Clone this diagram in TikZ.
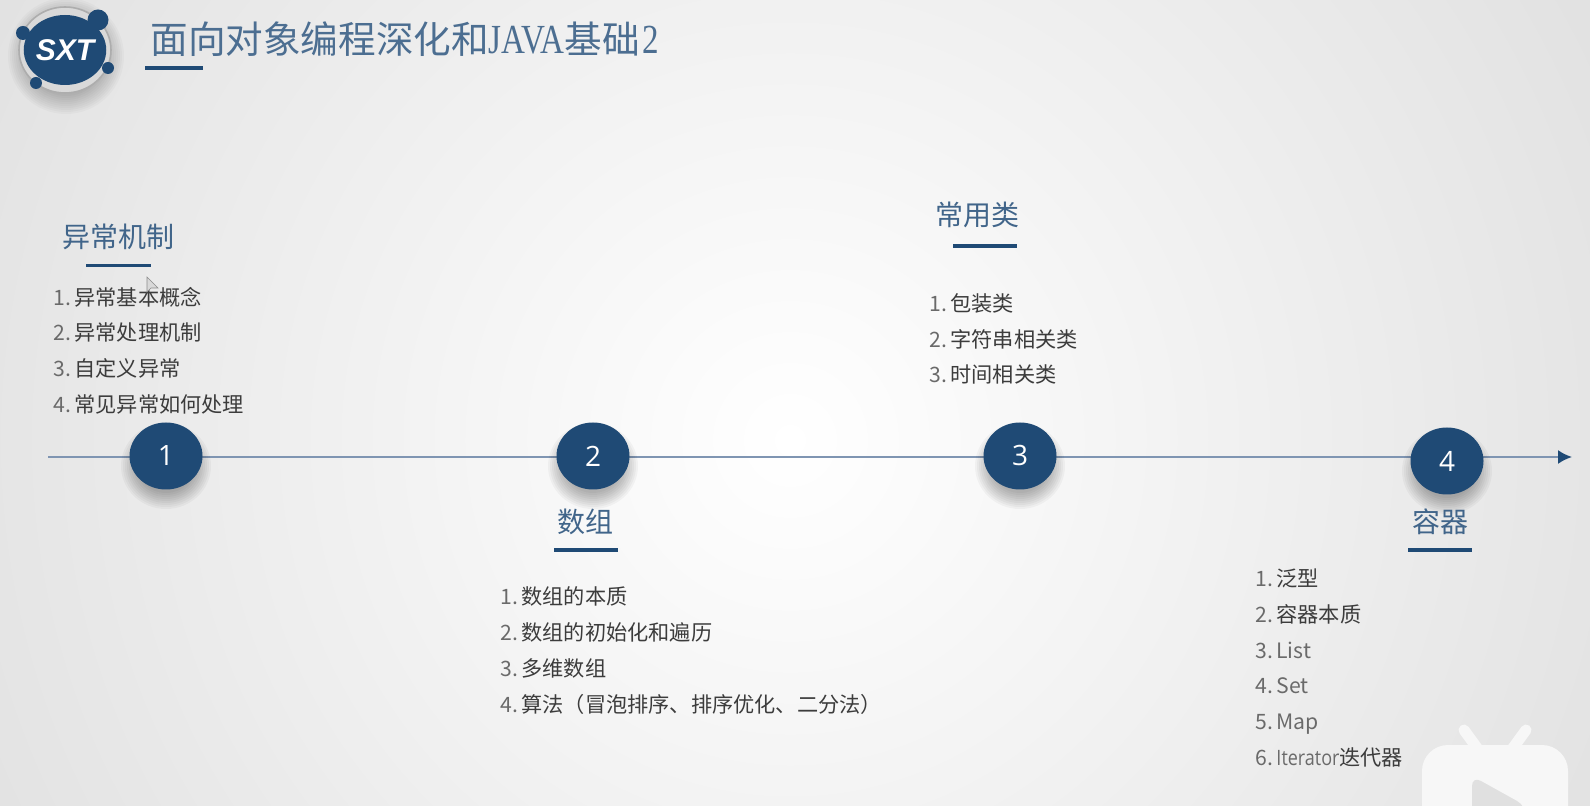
\documentclass[tikz,border=0pt]{standalone}
\usepackage{fontspec}
\setmainfont{Noto Sans CJK SC}
\newfontfamily\titlelatin[FakeStretch=0.8,Scale=1.1]{Liberation Serif}
\newfontfamily\digitfont{Open Sans}
\newfontfamily\logofont{Liberation Sans}
\newfontfamily\narrowlatin[FakeStretch=0.85]{Open Sans}
\usetikzlibrary{arrows.meta,shapes.geometric}
\definecolor{sxtblue}{HTML}{1F4A75}
\definecolor{axisblue}{HTML}{7F95B2}
\definecolor{itemgray}{HTML}{3C3C3C}
\definecolor{numgray}{HTML}{6A6A6A}
\newcommand{\numlabel}[1]{{\color{numgray}#1.}\hspace{1.7pt}}
\tikzset{
  stepnode/.style={ellipse, fill=sxtblue, text=white, minimum width=36.5pt, minimum height=33.5pt, inner sep=0pt, font=\digitfont\fontsize{14}{14}\selectfont},
  heading/.style={text=sxtblue!85!white, inner sep=0pt, font=\fontsize{14}{14}\selectfont},
  headrule/.style={draw=sxtblue, line width=1.8pt},
  itemlist/.style={anchor=north west, align=left, inner sep=0pt, text=itemgray, font=\fontsize{10.6}{17.9}\selectfont},
}
\begin{document}
\begin{tikzpicture}[x=0.5pt, y=-0.5pt]
            \useasboundingbox (0,0) rectangle (1590,806);
            % Background
            \begin{scope}
            \clip (0,0) rectangle (1590,806);
            \shade[inner color=white, outer color=black!19] (790,440) circle (1500);
            \end{scope}

            % Logo
            \foreach \r in {58,56,...,40} {
                \fill[black, opacity=0.025] (66,56) circle (\r);
            }
            \draw[black!32, line width=0.8pt, fill=black!15] (65,50) ellipse (46 and 43);
            \fill[sxtblue] (98,20) circle (10.5);
            \fill[sxtblue] (23,33) circle (7);
            \fill[sxtblue] (108,68) circle (6);
            \fill[sxtblue] (36,83) circle (6);
            \node[ellipse, fill=sxtblue, text=white, minimum width=37pt, minimum height=35pt, inner sep=0pt, font=\logofont\bfseries\itshape\fontsize{15}{15}\selectfont] (logo) at (65,50) {SXT};

            % Title
            \node[anchor=west, inner sep=0pt, text=sxtblue!80!white, font=\fontsize{18.8}{18.8}\selectfont] (title) at (150,39) {面向对象编程深化和{\titlelatin JAVA}基础\hspace{1pt}{\titlelatin 2}};
            \draw[headrule] (145,68) -- (203,68);

            % Axis
            \coordinate (axisstart) at (48,457);
            \coordinate (axisend) at (1572,457);
            \draw[axisblue, line width=1pt, -{Latex[length=7pt,width=7pt,sxtblue]}] (axisstart) -- (axisend);

            % Shadows below the steps
            \foreach \cx/\cy in {166/456,593/456,1020/456,1447/461} {
                \foreach \r in {46,44,...,30} {
                    \fill[black, opacity=0.035] (\cx,\cy+10) ellipse (\r-1 and \r-3);
                }
            }

            % Steps
            \node[stepnode] (step1) at (166,456) {1};
            \node[stepnode] (step2) at (593,456) {2};
            \node[stepnode] (step3) at (1020,456) {3};
            \node[stepnode] (step4) at (1447,461) {4};

            % Exceptions
            \node[heading] (head1) at (118,237) {异常机制};
            \draw[headrule] (86,265.5) -- (151,265.5);
            \node[itemlist] (list1) at (53,286.5) {\numlabel{1}异常基本概念\\\numlabel{2}异常处理机制\\\numlabel{3}自定义异常\\\numlabel{4}常见异常如何处理};

            % Arrays
            \node[heading] (head2) at (585,522) {数组};
            \draw[headrule] (554,550) -- (618,550);
            \node[itemlist] (list2) at (500,586.5) {\numlabel{1}数组的本质\\\numlabel{2}数组的初始化和遍历\\\numlabel{3}多维数组\\\numlabel{4}算法（冒泡排序、排序优化、二分法）};

            % Common classes
            \node[heading] (head3) at (977,215) {常用类};
            \draw[headrule] (953,246) -- (1017,246);
            \node[itemlist] (list3) at (929,293) {\numlabel{1}包装类\\\numlabel{2}字符串相关类\\\numlabel{3}时间相关类};

            % Containers
            \node[heading] (head4) at (1440,522) {容器};
            \draw[headrule] (1408,550) -- (1472,550);
            \node[itemlist] (list4) at (1255,568.5) {\numlabel{1}泛型\\\numlabel{2}容器本质\\\numlabel{3}{\color{numgray}List}\\\numlabel{4}{\color{numgray}Set}\\\numlabel{5}{\color{numgray}Map}\\\numlabel{6}{\color{numgray}\narrowlatin Iterator}迭代器};

            % Pointer
            \draw[black!45, fill=white!85!black, line width=0.3pt] (147,277) -- (147,292) -- (151,288) -- (158,288) -- cycle;

            % Watermark
            \draw[white!97!black, line width=5.5pt, line cap=round] (1464,730) -- (1480,752);
            \draw[white!97!black, line width=5.5pt, line cap=round] (1526,730) -- (1510,752);
            \fill[white!97!black, rounded corners=13pt] (1422,745) rectangle (1568,850);
            \fill[black!12, rounded corners=5pt] (1472,776) -- (1526,806) -- (1526,830) -- (1472,830) -- cycle;
\end{tikzpicture}
\end{document}
